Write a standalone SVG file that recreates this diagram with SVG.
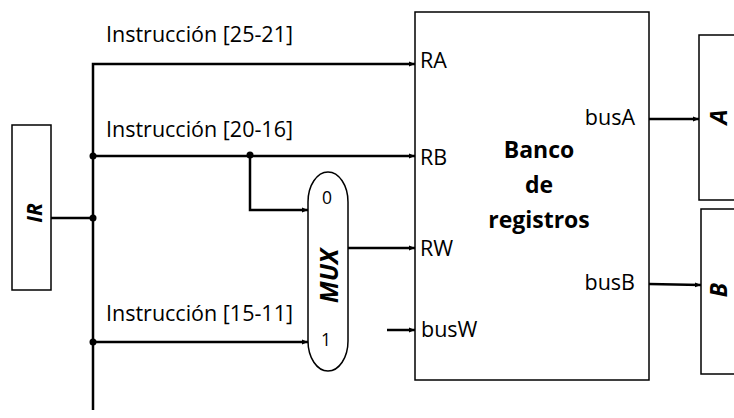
<svg xmlns="http://www.w3.org/2000/svg" width="734" height="418" viewBox="0 0 734 418">
<style>
.box{fill:#fff;stroke:#000;stroke-width:1.5}
.w{fill:none;stroke:#000;stroke-width:2.5}
.t{font-family:"Open Sans","Liberation Sans",sans-serif;font-size:21.5px;fill:#000}
.s{font-family:"Open Sans","Liberation Sans",sans-serif;font-size:17.5px;fill:#000}
.b{font-family:"Open Sans","Liberation Sans",sans-serif;font-size:23px;font-weight:bold;fill:#000}
.bi{font-family:"Open Sans","Liberation Sans",sans-serif;font-weight:bold;font-style:italic;fill:#000}
</style>
<defs>
<marker id="ar" markerWidth="6" markerHeight="6" refX="6" refY="3" orient="auto" markerUnits="userSpaceOnUse">
<path d="M0,0.5 L6,3 L0,5.5 Z" fill="#000"/>
</marker>
</defs>
<g id="IR">
<rect class="box" x="12" y="125" width="39" height="165"/>
<text class="bi" font-size="21" transform="translate(42,213) rotate(-90)" text-anchor="middle">IR</text>
</g>
<g id="banco">
<rect class="box" x="415" y="12" width="234" height="368"/>
<text class="t" x="420" y="68">RA</text>
<text class="t" x="420" y="165">RB</text>
<text class="t" x="420" y="256">RW</text>
<text class="t" x="421" y="337">busW</text>
<text class="t" x="635" y="125" text-anchor="end">busA</text>
<text class="t" x="635" y="290" text-anchor="end">busB</text>
<text class="b" x="539" y="158" text-anchor="middle">Banco</text>
<text class="b" x="539" y="193" text-anchor="middle">de</text>
<text class="b" x="539" y="228" text-anchor="middle">registros</text>
</g>
<g id="A">
<rect class="box" x="699" y="35" width="50" height="165"/>
<text class="bi" font-size="24" transform="translate(727,117) rotate(-90)" text-anchor="middle">A</text>
</g>
<g id="B">
<rect class="box" x="701" y="209" width="50" height="165"/>
<text class="bi" font-size="23" transform="translate(727,290) rotate(-90)" text-anchor="middle">B</text>
</g>
<g id="MUX">
<rect class="box" x="308" y="172" width="40" height="199" rx="20" ry="30"/>
<text class="s" x="327" y="204" text-anchor="middle">0</text>
<text class="s" x="326" y="346" text-anchor="middle">1</text>
<text class="bi" font-size="25" transform="translate(338,276) rotate(-90)" text-anchor="middle">MUX</text>
</g>
<g id="labels">
<text class="t" x="106" y="42">Instrucción [25-21]</text>
<text class="t" x="106" y="137">Instrucción [20-16]</text>
<text class="t" x="106" y="321">Instrucción [15-11]</text>
</g>
<g id="connectors">
<path class="w" d="M51,218 H93"/>
<path class="w" d="M93,410 V64 H415" marker-end="url(#ar)"/>
<path class="w" d="M93,156 H415" marker-end="url(#ar)"/>
<path class="w" d="M250,156 V210 H308" marker-end="url(#ar)"/>
<path class="w" d="M93,342 H308" marker-end="url(#ar)"/>
<path class="w" d="M348,248 H415" marker-end="url(#ar)"/>
<path class="w" d="M387,330 H415" marker-end="url(#ar)"/>
<path class="w" d="M649,119 H699" marker-end="url(#ar)"/>
<path class="w" d="M649,284 L701,285" marker-end="url(#ar)"/>
<circle cx="93" cy="156" r="3.5"/>
<circle cx="93" cy="218" r="3.5"/>
<circle cx="93" cy="342" r="3.5"/>
<circle cx="250" cy="155" r="3.5"/>
</g>
</svg>
